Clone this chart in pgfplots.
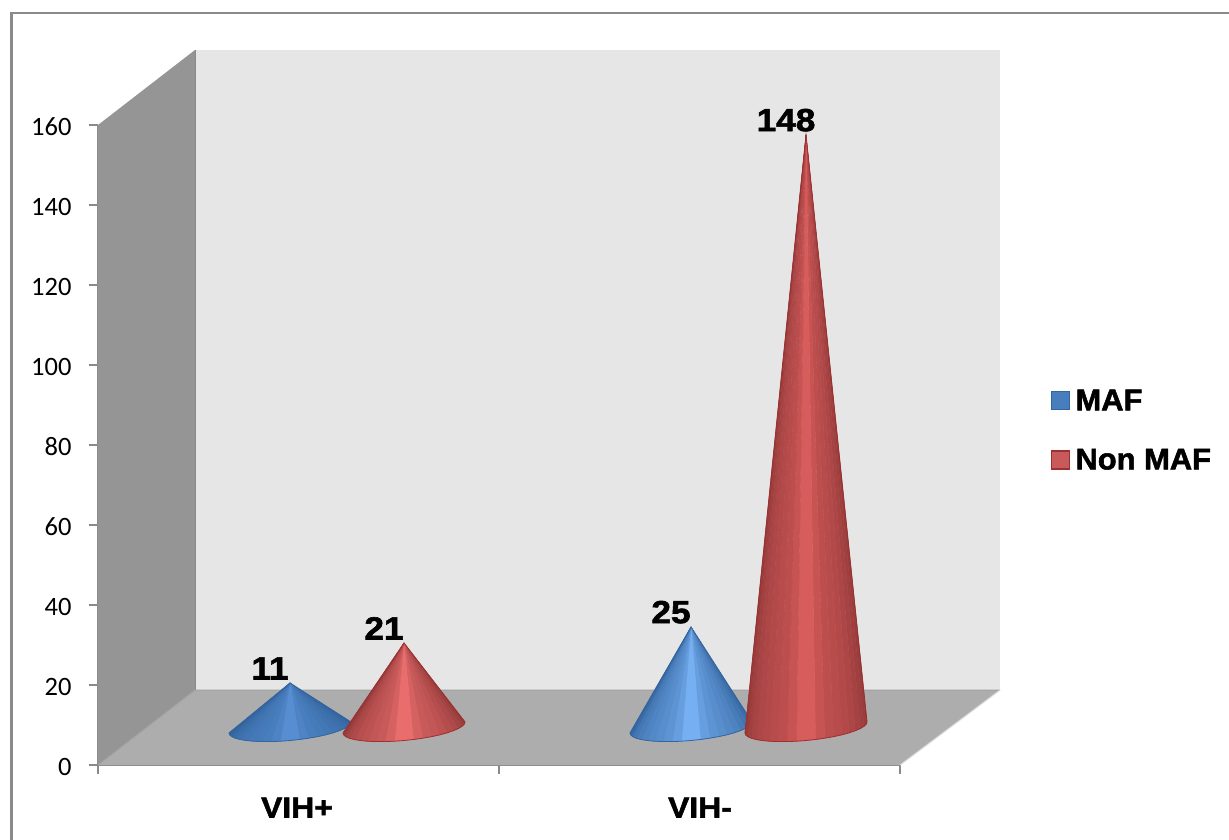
\documentclass[border=0pt]{standalone}
\usepackage{fontspec}
\usepackage{pgfplots}
\pgfplotsset{compat=1.18}
\setmainfont{Carlito}
\newfontfamily\lblfont[FakeStretch=1.1,FakeBold=1.8]{Liberation Sans Bold}
\newfontfamily\legfont[FakeStretch=1.03,FakeBold=1.8]{Liberation Sans Bold}

\definecolor{leftwall}{HTML}{959595}
\definecolor{backwall}{HTML}{E6E6E6}
\definecolor{floorcol}{HTML}{ADADAD}
\definecolor{axiscol}{HTML}{8A8A8A}
\definecolor{mafdark}{HTML}{2F6099}
\definecolor{maflight}{HTML}{5A92D6}
\definecolor{mafbright}{HTML}{7CB6FA}
\definecolor{mafline}{HTML}{33669F}
\definecolor{nondark}{HTML}{8C3535}
\definecolor{nonlight}{HTML}{F27272}
\definecolor{nonmid}{HTML}{DE5F5F}
\definecolor{nonline}{HTML}{A03030}

% Cone drawn as a fan of facets from the apex to the base ellipse.
% #1 centre x, #2 value, #3 edge colour, #4 highlight colour, #5 outline colour
\newcommand\cone[5]{%
  \pgfmathsetmacro\rx{#1+61}%
  \xdef\conerim{(\rx,1.25)}%
  \foreach \xa/\ya/\xb/\yb/\f in {
    61/1.25/60.2/0.725/5, 60.2/0.725/58/0.18/16, 58/0.18/54.4/-0.375/24,
    54.4/-0.375/49.3/-0.92/32, 49.3/-0.92/43.1/-1.45/40, 43.1/-1.45/35.9/-1.95/47,
    35.9/-1.95/27.7/-2.4/54, 27.7/-2.4/18.8/-2.79/60, 18.8/-2.79/9.5/-3.12/72,
    9.5/-3.12/0/-3.375/92, 0/-3.375/-9.5/-3.55/92, -9.5/-3.55/-18.8/-3.64/72,
    -18.8/-3.64/-27.7/-3.645/60, -27.7/-3.645/-35.9/-3.56/54, -35.9/-3.56/-43.1/-3.395/48,
    -43.1/-3.395/-49.3/-3.15/42, -49.3/-3.15/-54.4/-2.825/35, -54.4/-2.825/-58/-2.44/27,
    -58/-2.44/-60.2/-1.99/16, -60.2/-1.99/-61/-1.5/6}{%
    \pgfmathsetmacro\ax{#1+\xa}%
    \pgfmathsetmacro\bx{#1+\xb}%
    \xdef\conerim{\conerim (\bx,\yb)}%
    \edef\facet{\noexpand\addplot[forget plot, mark=none, yshift=38pt,
      draw=#4!\f!#3, fill=#4!\f!#3, line width=0.4pt]
      coordinates {(#1,#2) (\ax,\ya) (\bx,\yb)} --cycle;}%
    \facet
  }%
  \pgfmathsetmacro\lx{#1-61}%
  \edef\outline{\noexpand\addplot[forget plot, mark=none, yshift=38pt,
    draw=#5, line width=0.8pt] coordinates {(\lx,-1.5) (#1,#2) \conerim};}%
  \outline
}

\begin{document}
\begin{tikzpicture}
\useasboundingbox (0pt,0pt) rectangle (1229pt,-840pt);
\fill[white] (0pt,0pt) rectangle (1229pt,-840pt);
\draw[axiscol, line width=2.5pt] (11.5pt,-840pt) -- (11.5pt,-13pt) -- (1229pt,-13pt);
\begin{axis}[
  scale only axis, width=802pt, height=640pt,
  at={(98pt,-765pt)}, anchor=south west,
  xmin=98, xmax=900, ymin=0, ymax=160,
  clip=false,
  axis x line*=bottom, axis y line*=left,
  axis line style={draw=axiscol, line width=1.2pt, -},
  tick style={draw=axiscol, line width=1.2pt},
  tick align=outside,
  major tick length=9pt,
  xtick={98,499,900}, xticklabels={},
  extra x ticks={297,700}, extra x tick labels={VIH+,VIH-},
  extra x tick style={major tick length=0pt,
    xticklabel style={font=\lblfont\fontsize{29}{29}\selectfont, yshift=-29pt}},
  ytick={0,20,...,160},
  yticklabel style={font=\fontsize{26.5}{26.5}\selectfont, xshift=-14pt, yshift=-1.5pt},
  /pgf/number format/assume math mode=true,
  legend style={draw=none, fill=none, at={(1.188,0.523)}, anchor=west,
    row sep=27pt, font=\legfont\fontsize{30}{30}\selectfont,
    /tikz/every even column/.append style={column sep=0pt},
    inner sep=0pt, nodes={inner sep=5pt}},
  legend cell align=left,
  legend image code/.code={\draw[#1, line width=1.5pt] (0pt,-9pt) rectangle (18pt,9pt);},
]
% walls and floor, in pixels along x and value units along y
\addplot[forget plot, draw=none, fill=backwall] coordinates {(195,18.75) (195,178.75) (1000,178.75) (1000,18.75)} --cycle;
\addplot[forget plot, draw=none, fill=leftwall] coordinates {(98,0) (98,160) (195,178.75) (195,18.75)} --cycle;
\addplot[forget plot, draw=none, fill=floorcol] coordinates {(98,0) (195,18.75) (1000,18.75) (900,0)} --cycle;
\addplot[forget plot, draw=axiscol!80, line width=1pt] coordinates {(98,0) (195,18.75) (1000,18.75)};
\addplot[forget plot, draw=axiscol, line width=1pt] coordinates {(195,18.75) (195,178.75)};
\addplot[forget plot, draw=white!85!black, line width=1pt] coordinates {(1000,18.75) (900,0)};

\cone{290}{11}{mafdark}{maflight}{mafline}
\cone{404}{21}{nondark}{nonlight}{nonline}
\cone{691}{25}{mafdark}{mafbright}{mafline}
\cone{806}{148}{nondark}{nonmid}{nonline}

% value labels
\addplot[forget plot, draw=none, mark=none, yshift=38pt,
  nodes near coords, point meta=y,
  nodes near coords style={anchor=south, xshift=-20pt, yshift=0pt, text=black,
    font=\lblfont\fontsize{32}{32}\selectfont,
    /pgf/number format/assume math mode=true}]
  coordinates {(290,11) (404,21) (691,25) (806,148)};

\addlegendimage{draw=mafline, fill=maflight!60!mafdark}
\addlegendentry{MAF}
\addlegendimage{draw=nonline, fill=nonlight!60!nondark}
\addlegendentry{Non MAF}
\end{axis}
\end{tikzpicture}
\end{document}
